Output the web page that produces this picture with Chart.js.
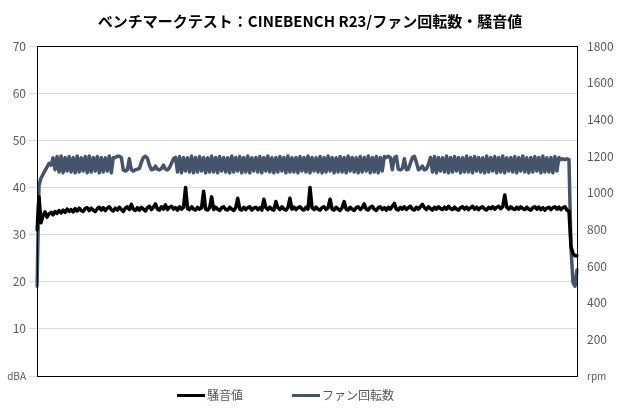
<!DOCTYPE html>
<html><head><meta charset="utf-8">
<script src="https://cdn.jsdelivr.net/npm/chart.js@4/dist/chart.umd.min.js"></script>
<style>
html,body{margin:0;padding:0;background:#fff;}
#wrap{position:relative;width:620px;height:410px;}
#legend{position:absolute;left:0;top:386px;width:620px;height:18px;font-family:"Noto Sans CJK JP",sans-serif;font-size:12px;color:#595959;}
.item{position:absolute;top:0;height:18px;line-height:18px;white-space:nowrap;}
.sw{display:inline-block;width:28px;height:3px;vertical-align:middle;margin-right:2px;position:relative;top:-1px;}
</style>
</head><body>
<div id="wrap"><canvas id="c" width="620" height="410"></canvas>
<div id="legend"></div></div>
<script>
const title = "ベンチマークテスト：CINEBENCH R23/ファン回転数・騒音値";
const seriesNames = ["騒音値", "ファン回転数"];
const leftTicks = [0,10,20,30,40,50,60,70];
const rightTicks = [0,200,400,600,800,1000,1200,1400,1600,1800];
const leftUnit = "dBA";
const rightUnit = "rpm";

const noise = [
31,38,32.5,34.0,34.8,33.7,34.4,34.7,34.2,34.9,
34.5,35.1,34.6,35.2,34.7,35.4,34.9,35.3,34.8,35.5,
35.0,35.6,35.1,34.9,35.5,35.7,35.1,35.6,35.2,34.9,
35.5,35.8,35.2,35.7,35.1,35.6,35.9,35.3,35.0,35.6,
35.2,35.8,35.3,34.9,35.6,35.9,35.3,36.4,35.4,35.1,
35.7,35.2,35.8,35.4,35.0,35.7,36.0,35.3,35.8,36.5,
35.4,35.2,35.9,35.4,36.3,35.3,35.8,36.0,35.4,35.7,
35.2,35.9,35.4,35.8,40.0,35.5,35.3,35.9,35.4,35.2,
35.8,35.4,35.7,39.2,35.4,35.2,35.7,38.0,35.3,35.8,
35.4,35.1,35.7,35.9,35.3,35.2,35.8,35.4,35.1,35.7,
37.7,35.4,35.2,35.8,35.3,35.7,35.9,35.2,35.6,35.8,
35.3,35.7,35.2,37.5,35.7,35.3,35.8,35.4,35.2,37.0,
35.7,35.3,35.9,35.4,35.2,35.7,37.7,35.4,35.8,35.3,
35.7,35.9,35.4,35.2,35.8,35.4,40.0,35.7,35.3,35.8,
35.4,35.2,35.7,35.9,35.3,35.7,37.5,35.4,35.2,35.8,
35.4,35.1,35.7,37.0,35.4,35.2,35.8,35.4,35.1,35.7,
35.9,35.3,35.7,36.5,35.4,35.2,35.8,36.0,35.4,35.1,
35.7,35.9,35.3,35.7,35.2,35.8,35.4,36.0,36.6,35.4,
35.2,35.8,35.4,35.9,35.3,35.7,36.0,35.4,35.2,35.8,
35.4,35.9,36.4,35.7,35.3,35.9,35.5,35.2,35.8,35.4,
35.9,35.5,35.3,35.8,35.4,36.0,35.5,35.3,35.8,35.4,
35.2,35.7,35.9,35.4,35.8,35.3,35.7,36.0,35.4,35.8,
35.3,35.7,35.9,35.4,35.2,35.8,35.5,35.9,35.4,35.8,
36.0,35.5,35.9,38.4,35.8,35.4,35.9,35.5,35.3,35.8,
35.4,35.9,35.5,35.3,35.8,35.4,35.2,35.7,35.9,35.4,
35.8,35.3,35.7,35.2,35.6,35.8,35.3,35.7,35.9,35.4,
35.8,35.3,35.7,35.9,35.2,
35.0,27.5,26.0,25.5,25.5
];

const fan = [
490,1040,1080,1100,1120,1140,1160,
1150,1190,1125,1197,1113,1200,1108,1192,1118,1197,
1113,1192,1108,1200,1113,1190,1118,1197,1108,1200,
1113,1192,1118,1197,1108,1192,1113,1190,1118,1200,
1108,1192,
1192,1198,1198,1192,1125,1118,1125,1185,1125,1118,
1125,1128,1132,1165,1192,1198,1188,1150,1125,1128,
1145,1128,1124,1132,1150,1128,1124,1136,1160,1185,
1192,1113,1197,1108,1192,1118,1190,1113,1200,1108,
1192,1113,1197,1118,1192,1108,1190,1113,1200,1113,
1192,1108,1197,1118,1192,1113,1190,1108,1200,1113,
1192,1118,1197,1108,1192,1113,1200,1108,1190,1118,
1192,1113,1197,1108,1192,1118,1200,1113,1190,1108,
1192,1113,1197,1118,1192,1108,1200,1113,1190,1113,
1192,1108,1197,1118,1192,1113,1200,1108,1192,1118,
1190,1113,1197,1108,1192,1113,1200,1118,1192,1108,
1190,1113,1197,1113,1192,1108,1200,1118,1192,1113,
1190,1108,1197,1113,1192,1118,1200,1108,1192,1113,
1197,1108,1192,1118,1197,
1192,1198,1192,1125,1190,1198,1128,1124,1132,1185,
1125,1128,1160,1192,1198,1165,1125,1132,1145,1124,
1128,1155,
1192,1113,1197,1108,1192,1118,1190,1113,1200,1108,
1192,1113,1197,1118,1192,1108,1190,1113,1200,1113,
1192,1108,1197,1118,1192,1113,1190,1108,1200,1113,
1192,1118,1197,1108,1192,1113,1200,1108,1190,1118,
1192,1113,1197,1108,1192,1118,1200,1113,1190,1108,
1192,1113,1197,1118,1192,1108,1200,1113,1190,1113,
1192,1108,1197,1118,1192,1180,1185,1180,1185,
1180,700,510,490,580
];

const categories = noise.map((_, i) => i + 1);

const colNoise = "#000000";
const colFan = "#44546A";
const FONT = "'Noto Sans CJK JP', 'Noto Sans', sans-serif";

const boxPlugin = {
  id: 'box',
  afterDatasetsDraw(chart) {
    const a = chart.chartArea, ctx = chart.ctx;
    ctx.save();
    ctx.strokeStyle = '#000';
    ctx.lineWidth = 1;
    ctx.strokeRect(Math.round(a.left) + 0.5, Math.round(a.top) + 0.5, Math.round(a.right - a.left), Math.round(a.bottom - a.top));
    ctx.restore();
  }
};

new Chart(document.getElementById('c'), {
  type: 'line',
  data: {
    labels: categories,
    datasets: [
      { label: seriesNames[0], data: noise, yAxisID: 'y', borderColor: colNoise, backgroundColor: colNoise, borderWidth: 3.5, borderJoinStyle: 'round', borderCapStyle: 'round', pointRadius: 0, tension: 0 },
      { label: seriesNames[1], data: fan, yAxisID: 'y1', borderColor: colFan, backgroundColor: colFan, borderWidth: 3.5, borderJoinStyle: 'round', borderCapStyle: 'round', pointRadius: 0, tension: 0 }
    ]
  },
  options: {
    responsive: false,
    animation: false,
    events: [],
    layout: { padding: { left: 0, right: 0, top: 0, bottom: 34 } },
    plugins: {
      legend: { display: false },
      tooltip: { enabled: false },
      title: {
        display: true, text: title, color: '#000',
        font: { family: FONT, size: 15, weight: 'bold' },
        padding: { top: 12, bottom: 16 }
      }
    },
    scales: {
      x: { display: false, offset: false },
      y: {
        position: 'left', min: 0, max: 70,
        afterBuildTicks(s) { s.ticks = leftTicks.map(v => ({ value: v })); },
        afterFit(s) { s.width = 37; },
        border: { display: false },
        grid: { color: '#d9d9d9', tickLength: 8, drawTicks: true },
        ticks: {
          color: '#595959', padding: 3,
          font: (c) => c.tick && c.tick.value === 0 ? { family: FONT, size: 10 } : { family: FONT, size: 12 },
          callback: (v) => v === 0 ? leftUnit : v
        }
      },
      y1: {
        position: 'right', min: 0, max: 1800,
        afterBuildTicks(s) { s.ticks = rightTicks.map(v => ({ value: v })); },
        afterFit(s) { s.width = 43; },
        border: { display: false },
        grid: { drawOnChartArea: false, drawTicks: false },
        ticks: {
          color: '#595959', padding: 10,
          font: (c) => c.tick && c.tick.value === 0 ? { family: FONT, size: 10 } : { family: FONT, size: 12 },
          callback: (v) => v === 0 ? rightUnit : v
        }
      }
    }
  },
  plugins: [boxPlugin]
});

const lg = document.getElementById('legend');
const lefts = [177, 292];
seriesNames.forEach((n, i) => {
  const d = document.createElement('div');
  d.className = 'item';
  d.style.left = lefts[i] + 'px';
  const sw = document.createElement('span');
  sw.className = 'sw';
  sw.style.background = i === 0 ? colNoise : colFan;
  d.appendChild(sw);
  d.appendChild(document.createTextNode(n));
  lg.appendChild(d);
});
</script>
</body></html>
